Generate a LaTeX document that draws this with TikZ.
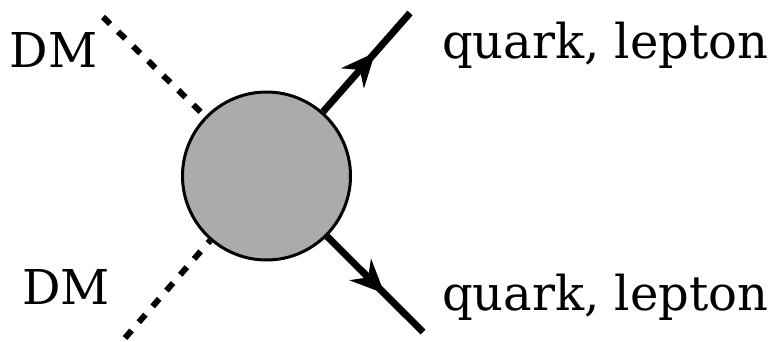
\documentclass[tikz,border=0pt]{standalone}
\usepackage{fontspec}
\setmainfont{DejaVu Serif}
\usepackage{tikz}
\usetikzlibrary{arrows.meta,decorations.markings}

\begin{document}
\begin{tikzpicture}[x=1pt, y=1pt,
    fermion/.style={line width=7pt, postaction={decorate},
      decoration={markings, mark=at position 0.6 with {\arrow{Stealth[length=34pt,width=30pt,inset=11pt]}}}},
    scalar/.style={line width=6pt, dash pattern=on 10pt off 11pt},
    lbl/.style={font=\fontsize{48}{58}\selectfont, inner sep=0pt}]
  \useasboundingbox (0,0) rectangle (778,341);
  \node[circle, draw, line width=3pt, fill=black!33, minimum size=168pt, inner sep=0pt] (blob) at (266.5,165) {};
  \coordinate (dmin1) at (103,324);
  \coordinate (dmin2) at (125,3);
  \coordinate (fout1) at (410,328);
  \coordinate (fout2) at (423,9);
  \draw[scalar] (dmin1) -- (blob);
  \draw[scalar] (dmin2) -- (blob);
  \draw[fermion] (blob) -- (fout1);
  \draw[fermion] (blob) -- (fout2);
  \node[lbl] (dm1) at (53.5,291) {DM};
  \node[lbl] (dm2) at (66,54.5) {DM};
  \node[lbl, anchor=base west] (q1) at (442,283) {quark, lepton};
  \node[lbl, anchor=base west] (q2) at (442,31) {quark, lepton};
\end{tikzpicture}
\end{document}
